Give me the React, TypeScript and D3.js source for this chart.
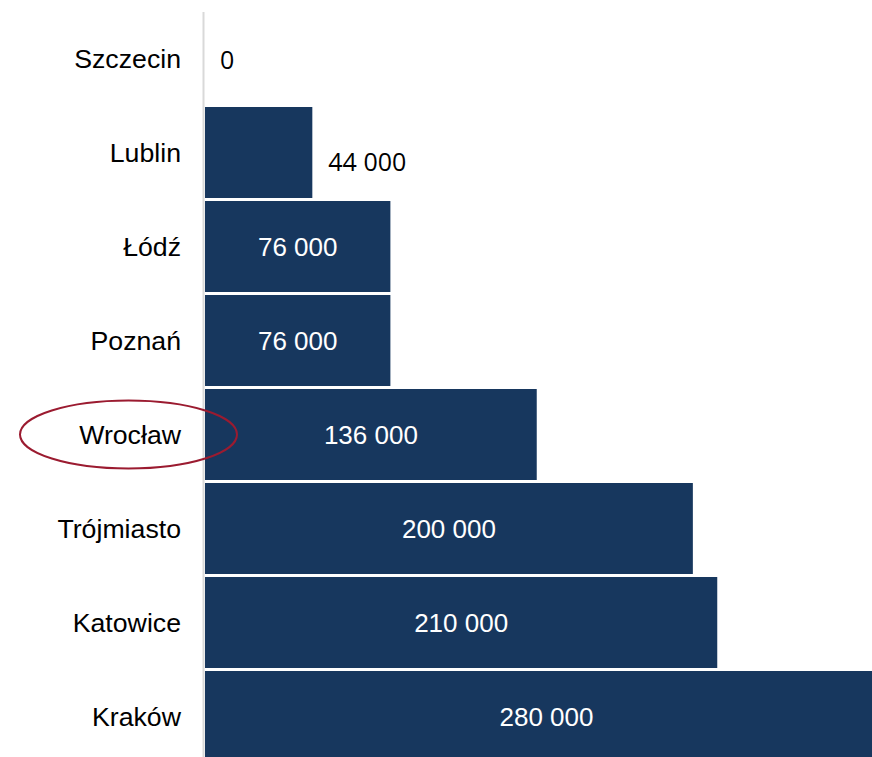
import React, { useEffect, useRef } from 'react';
import * as d3 from 'd3';

// city names, top to bottom
const cities = ['Szczecin', 'Lublin', 'Łódź', 'Poznań', 'Wrocław', 'Trójmiasto', 'Katowice', 'Kraków'];
const values = [0, 44000, 76000, 76000, 136000, 200000, 210000, 280000];
const highlighted = 'Wrocław';

const App = () => {
  const ref = useRef<SVGSVGElement | null>(null);
  const width = 872;
  const height = 757;

  useEffect(() => {
    if (!ref.current) return;
    const svg = d3.select(ref.current);
    svg.selectAll('*').remove();

    const data = cities.map((c, i) => ({ city: c, value: values[i] }));
    const fmt = (v: number) => d3.format(',')(v).replace(/,/g, ' ');

    const x = d3.scaleLinear().domain([0, 280000]).range([205, 888]);
    const y = d3.scaleBand<string>()
      .domain(cities)
      .range([11.5, 763.5])
      .paddingInner(0.032)
      .paddingOuter(0.016);

    // bars
    svg.append('g')
      .selectAll('rect')
      .data(data)
      .join('rect')
      .attr('x', x(0))
      .attr('y', d => y(d.city)!)
      .attr('width', d => x(d.value) - x(0))
      .attr('height', y.bandwidth())
      .attr('fill', '#17375e');

    // axis line
    svg.append('line')
      .attr('x1', 203.5).attr('x2', 203.5)
      .attr('y1', 12).attr('y2', height)
      .attr('stroke', '#d9d9d9')
      .attr('stroke-width', 2);

    // category labels
    svg.append('g')
      .selectAll('text')
      .data(data)
      .join('text')
      .attr('x', 181)
      .attr('y', d => y(d.city)! + y.bandwidth() / 2)
      .attr('dy', '0.35em')
      .attr('text-anchor', 'end')
      .attr('font-family', 'Liberation Sans, Arial, sans-serif')
      .attr('font-size', 26.7)
      .attr('fill', '#000')
      .text(d => d.city);

    // value labels: inside when there is room, otherwise after the bar
    const inside = (d: { value: number }) => x(d.value) - x(0) > 150;
    svg.append('g')
      .selectAll('text')
      .data(data)
      .join('text')
      .attr('x', d => inside(d) ? (x(0) + x(d.value)) / 2 : x(d.value) + (d.value ? 16 : 15))
      .attr('y', d => y(d.city)! + y.bandwidth() / 2 + (inside(d) ? 0 : d.value ? 10 : 1.5))
      .attr('dy', '0.35em')
      .attr('text-anchor', d => inside(d) ? 'middle' : 'start')
      .attr('font-family', d => inside(d) ? 'Liberation Sans, Arial, sans-serif' : 'Open Sans, DejaVu Sans, sans-serif')
      .attr('font-size', d => inside(d) ? 26 : 25)
      .attr('fill', d => inside(d) ? '#fff' : '#000')
      .text(d => fmt(d.value));

    // highlight ring around one city
    svg.append('ellipse')
      .attr('cx', 128.5)
      .attr('cy', y(highlighted)! + y.bandwidth() / 2)
      .attr('rx', 108.5)
      .attr('ry', 34)
      .attr('fill', 'none')
      .attr('stroke', '#9b1b30')
      .attr('stroke-width', 2);
  }, []);

  return (
    <svg
      ref={ref}
      width={width}
      height={height}
      style={{ position: 'absolute', left: 0, top: 0, background: '#fff' }}
    />
  );
};

export default App;
